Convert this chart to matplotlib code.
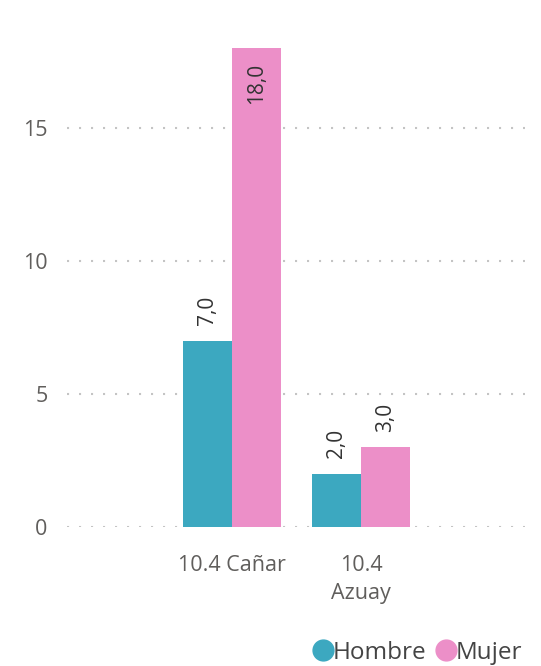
import matplotlib.pyplot as plt
from matplotlib.lines import Line2D
import numpy as np

plt.rcParams['font.family'] = ['Open Sans', 'DejaVu Sans']

categorias = ['10.4 Cañar', '10.4\nAzuay']
hombre = [7.0, 2.0]
mujer = [18.0, 3.0]
series = [('Hombre', hombre, '#3CA8C0'), ('Mujer', mujer, '#EC8FC8')]

W, H = 541, 666
fig = plt.figure(figsize=(W / 100, H / 100), dpi=100)
ax = fig.add_axes([67 / W, (H - 527) / H, (525 - 67) / W, (527 - 8) / H])

x = np.arange(len(categorias))
ancho = 0.38
for i, (nombre, vals, color) in enumerate(series):
    pos = x + (i - 0.5) * ancho
    bars = ax.bar(pos, vals, width=ancho, color=color, zorder=2)
    for b, v in zip(bars, vals):
        lbl = f"{v:.1f}".replace('.', ',')
        top = b.get_height()
        if v >= 15:
            ax.annotate(lbl, (b.get_x() + b.get_width() / 2, top), xytext=(0, -11),
                        textcoords='offset points', rotation=90, ha='center', va='top',
                        fontsize=15, color='#333333', zorder=3)
        else:
            ax.annotate(lbl, (b.get_x() + b.get_width() / 2, top), xytext=(0, 11),
                        textcoords='offset points', rotation=90, ha='center', va='bottom',
                        fontsize=15, color='#333333', zorder=3)

ax.set_xlim(-1.28, 2.27)
ax.set_ylim(0, 19.5)
ax.set_yticks([0, 5, 10, 15])
ax.set_xticks(x)
ax.set_xticklabels(categorias, linespacing=1.45)
ax.tick_params(axis='both', length=0, labelsize=15.5, labelcolor='#605E5C')
ax.tick_params(axis='y', pad=14)
ax.tick_params(axis='x', pad=20)
ax.grid(axis='y', color='#C4C4C4', linestyle=(0, (1, 4.76)), linewidth=1.5,
        dash_capstyle='butt', zorder=0)
for s in ax.spines.values():
    s.set_visible(False)

handles = [Line2D([], [], marker='o', linestyle='', markersize=15, color=c) for _, _, c in series]
fig.legend(handles, [n for n, _, _ in series], loc='lower right', bbox_to_anchor=(0.997, -0.024),
           frameon=False, fontsize=17.5, handletextpad=-0.1, columnspacing=0.3, ncol=2,
           handlelength=1.0, labelcolor='#444444', borderaxespad=0.3)

fig.savefig('out.png', dpi=100)
